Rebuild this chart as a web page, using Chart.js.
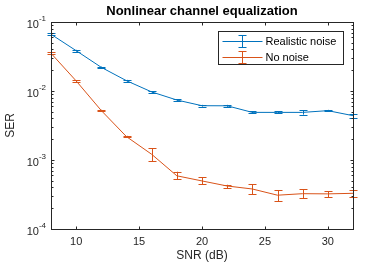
<!DOCTYPE html>
<html>
<head>
<meta charset="utf-8">
<script src="https://cdn.jsdelivr.net/npm/chart.js@4.4.1/dist/chart.umd.min.js"></script>
<style>
  html, body { margin: 0; padding: 0; background: #fff; }
  #wrap { width: 391px; height: 269px; }
</style>
</head>
<body>
<div id="wrap"><canvas id="serchart"></canvas></div>
<script>
// data
const snr = [8, 10, 12, 14, 16, 18, 20, 22, 24, 26, 28, 30, 32];
const serRealistic = [0.0664, 0.0384, 0.0220, 0.0141, 0.0097, 0.0074, 0.00612, 0.0061, 0.0049, 0.0049, 0.0049, 0.00519, 0.00439];
const realisticLo  = [0.0645, 0.0373, 0.0214, 0.0137, 0.0094, 0.0072, 0.00595, 0.0059, 0.00475, 0.00475, 0.00455, 0.00505, 0.0041];
const realisticHi  = [0.0684, 0.0395, 0.0226, 0.0145, 0.0100, 0.0076, 0.0063, 0.0063, 0.00505, 0.00505, 0.00528, 0.00533, 0.0047];
const serNoNoise = [0.0352, 0.0140, 0.0052, 0.00218, 0.00121, 0.00059, 0.000497, 0.00042, 0.00038, 0.000309, 0.000325, 0.000323, 0.000329];
const noNoiseLo  = [0.0342, 0.0136, 0.00505, 0.00212, 0.000957, 0.000525, 0.000444, 0.000389, 0.000318, 0.000252, 0.000279, 0.000288, 0.000288];
const noNoiseHi  = [0.0362, 0.0144, 0.00535, 0.00224, 0.00148, 0.000676, 0.000561, 0.000438, 0.000444, 0.000364, 0.000376, 0.000352, 0.000371];
const xTicks = [10, 15, 20, 25, 30];
const yDecades = [-4, -3, -2, -1];
const seriesNames = ['Realistic noise', 'No noise'];
const titleText = 'Nonlinear channel equalization';
const xLabel = 'SNR (dB)';
const yLabel = 'SER';

const blue = '#0072BD';
const orange = '#D95319';
const FONT = '"Liberation Sans", Arial, sans-serif';

function pts(xs, ys) { return xs.map((x, i) => ({x: x, y: ys[i]})); }

const errBars = [
  {lo: realisticLo, hi: realisticHi, color: blue},
  {lo: noNoiseLo, hi: noNoiseHi, color: orange}
];

// matlab-ish axes: box, inward ticks, minor log ticks, superscript labels, error bars, legend
const matlabAxes = {
  id: 'matlabAxes',
  afterDatasetsDraw(chart) {
    const c = chart.ctx;
    const xs = chart.scales.x, ys = chart.scales.y;
    const a = chart.chartArea;
    c.save();
    // error bars
    errBars.forEach(eb => {
      c.strokeStyle = eb.color;
      c.lineWidth = 1;
      snr.forEach((x, i) => {
        const px = Math.round(xs.getPixelForValue(x)) + 0.5;
        const y1 = ys.getPixelForValue(eb.lo[i]);
        const y2 = ys.getPixelForValue(eb.hi[i]);
        c.beginPath();
        c.moveTo(px, y1); c.lineTo(px, y2);
        c.moveTo(px - 4, Math.round(y1) + 0.5); c.lineTo(px + 4, Math.round(y1) + 0.5);
        c.moveTo(px - 4, Math.round(y2) + 0.5); c.lineTo(px + 4, Math.round(y2) + 0.5);
        c.stroke();
      });
    });
    // box
    c.strokeStyle = '#262626';
    c.lineWidth = 1;
    const L = Math.round(a.left) + 0.5, R = Math.round(a.right) + 0.5;
    const T = Math.round(a.top) + 0.5, B = Math.round(a.bottom) + 0.5;
    c.strokeRect(L, T, R - L, B - T);
    c.beginPath();
    xTicks.forEach(v => {
      const px = Math.round(xs.getPixelForValue(v)) + 0.5;
      c.moveTo(px, B); c.lineTo(px, B - 3);
      c.moveTo(px, T); c.lineTo(px, T + 3);
    });
    for (let d = -4; d <= -2; d++) {
      for (let m = 1; m <= 9; m++) {
        const py = Math.round(ys.getPixelForValue(m * Math.pow(10, d))) + 0.5;
        const len = m === 1 ? 3 : 2;
        c.moveTo(L, py); c.lineTo(L + len, py);
        c.moveTo(R, py); c.lineTo(R - len, py);
      }
    }
    c.stroke();
    // tick labels
    c.fillStyle = '#262626';
    c.font = '11px ' + FONT;
    c.textAlign = 'center';
    c.textBaseline = 'middle';
    xTicks.forEach(v => c.fillText(String(v), xs.getPixelForValue(v), B + 12));
    yDecades.forEach(d => {
      const py = ys.getPixelForValue(Math.pow(10, d));
      const exp = String(d);
      c.font = '8px ' + FONT;
      const ew = c.measureText(exp).width;
      c.textAlign = 'left';
      c.textBaseline = 'alphabetic';
      c.fillText(exp, a.left - 5 - ew, py - 1);
      c.font = '11px ' + FONT;
      c.textAlign = 'right';
      c.fillText('10', a.left - 5 - ew, py + 6);
    });
    // axis titles
    c.textAlign = 'center';
    c.textBaseline = 'middle';
    c.font = '12px ' + FONT;
    c.fillText(xLabel, (a.left + a.right) / 2, 256);
    c.save();
    c.translate(11, (a.top + a.bottom) / 2);
    c.rotate(-Math.PI / 2);
    c.fillText(yLabel, 0, 0);
    c.restore();
    c.font = 'bold 13px ' + FONT;
    c.fillStyle = '#000';
    c.fillText(titleText, (a.left + a.right) / 2, 11);
    // legend
    const lx = 218.5, ly = 31.5, lw = 125, lh = 33;
    c.fillStyle = '#fff';
    c.fillRect(lx, ly, lw, lh);
    c.strokeStyle = '#262626';
    c.strokeRect(lx, ly, lw, lh);
    c.font = '11px ' + FONT;
    c.textAlign = 'left';
    chart.data.datasets.forEach((ds, i) => {
      const yy = Math.round(ly + 9 + i * 16) + 0.5;
      c.strokeStyle = ds.borderColor;
      c.beginPath();
      c.moveTo(lx + 4, yy); c.lineTo(lx + 44, yy);
      c.moveTo(lx + 24, yy - 6); c.lineTo(lx + 24, yy + 6);
      c.moveTo(lx + 20, yy - 6); c.lineTo(lx + 28, yy - 6);
      c.moveTo(lx + 20, yy + 6); c.lineTo(lx + 28, yy + 6);
      c.stroke();
      c.fillStyle = '#000';
      c.fillText(ds.label, lx + 47, yy);
    });
    c.restore();
  }
};

new Chart(document.getElementById('serchart').getContext('2d'), {
  type: 'line',
  data: {
    datasets: [
      { label: seriesNames[0], data: pts(snr, serRealistic), borderColor: blue, backgroundColor: blue,
        borderWidth: 1, pointRadius: 0, tension: 0, fill: false },
      { label: seriesNames[1], data: pts(snr, serNoNoise), borderColor: orange, backgroundColor: orange,
        borderWidth: 1, pointRadius: 0, tension: 0, fill: false }
    ]
  },
  options: {
    responsive: true,
    maintainAspectRatio: false,
    animation: false,
    layout: { padding: { left: 51, right: 38, top: 22, bottom: 40 } },
    plugins: { legend: { display: false }, title: { display: false }, tooltip: { enabled: false } },
    scales: {
      x: { type: 'linear', min: 8, max: 32, display: false },
      y: { type: 'logarithmic', min: 1e-4, max: 1e-1, display: false }
    }
  },
  plugins: [matlabAxes]
});
</script>
</body>
</html>
